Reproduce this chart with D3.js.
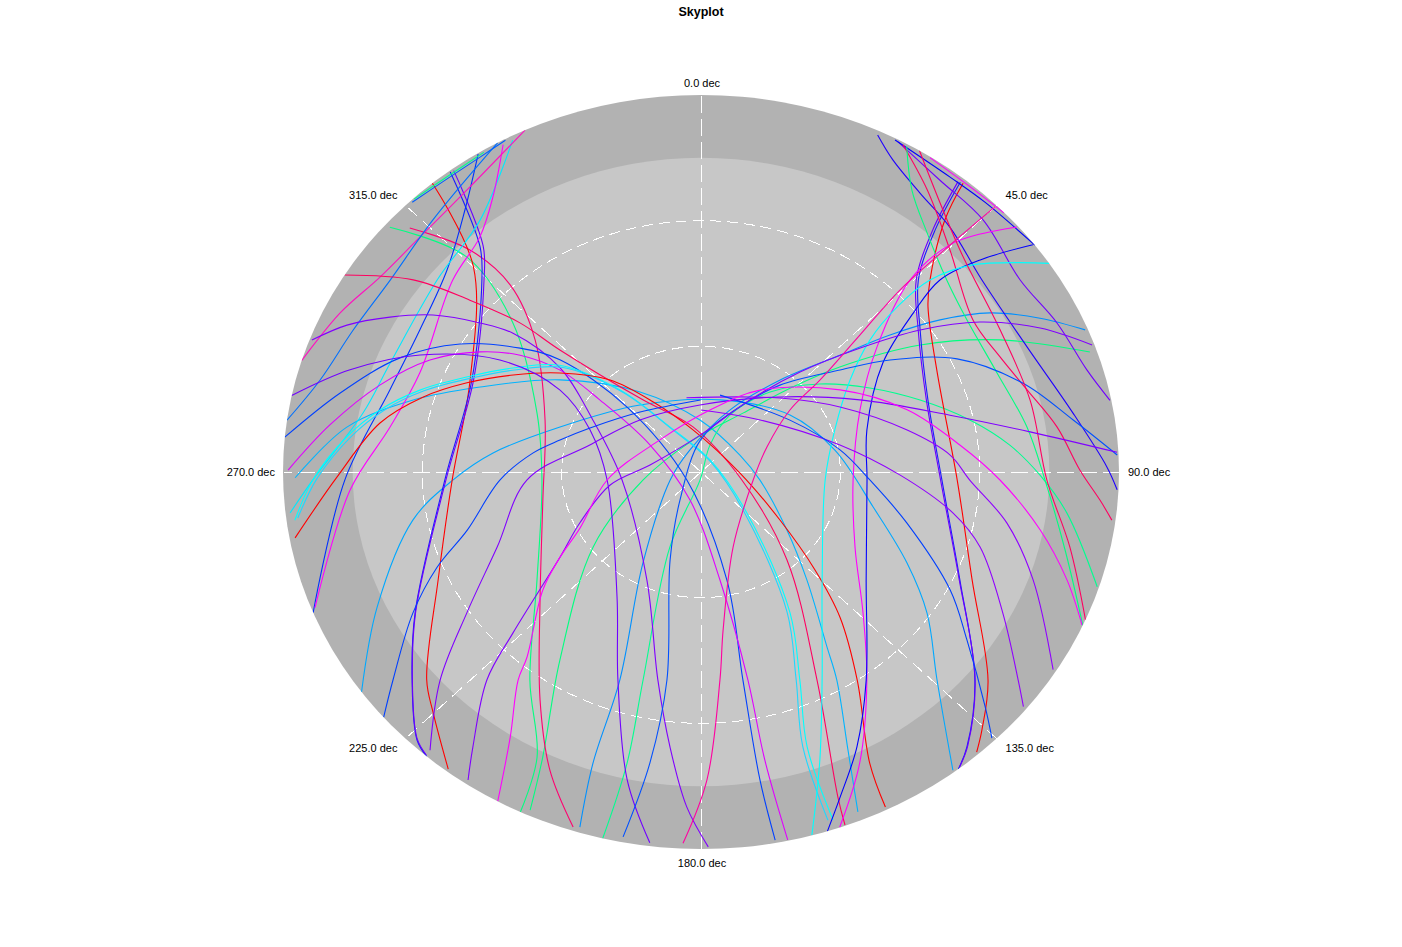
<!DOCTYPE html>
<html><head><meta charset="utf-8">
<script src="https://cdn.jsdelivr.net/npm/d3@7"></script>
<style>body{margin:0;background:#fff;}svg{display:block;}</style>
</head><body>
<svg id="chart" width="1402" height="947"></svg>
<script>
// ---- chart data (azimuth deg, elevation deg) ----
const title = "Skyplot";
const azimuthTicks = [0, 45, 90, 135, 180, 225, 270, 315];
const azimuthLabels = ["0.0 dec","45.0 dec","90.0 dec","135.0 dec","180.0 dec","225.0 dec","270.0 dec","315.0 dec"];
const elevationMask = 15;
const elevationRings = [30, 60];

const trackA1 = [[320,0],[315,20.7],[294,35.6],[268,36.4],[245.5,27.8],[230,12.9],[225,8.5],[217.5,0.6]];
const trackA2 = [[323,0.3],[318.5,18.2],[314.2,24.2],[294,36],[268,34.8],[241.3,19.8],[231.4,10.4],[223.7,1.5],[221,0]];
const trackA3 = [[323.5,0.5],[319,18.5],[314.6,24.4],[294.3,36.3],[268.2,35.1],[241.5,20.1],[231.6,10.7],[223.9,1.8],[221.2,0.2]];
const trackA4 = [[327.7,0.2],[320.9,9.4],[311.4,17.1],[299.3,20.6],[286.3,20.2],[268.6,13.3],[248.1,0]];
const trackA5 = [[332.9,1],[321.7,13.3],[308.9,17],[291.2,18.2],[281,15.9],[268.7,6.4],[263.7,1]];
const trackA6 = [[331.4,1],[325.7,10.5],[319.7,16.4],[310.6,19.6],[291.3,25],[279.1,22.2],[266.7,14.3],[248.7,0.8]];
const trackA7 = [[335.1,0],[323.2,5.9],[312.8,7.5],[304,6.7],[296,3.5],[287.2,0]];
const trackA8 = [[330.9,0],[316.2,6.6],[304.4,8.9],[294.3,7.8],[285,5.1],[277.9,0]];
const trackA9 = [[311.1,1.1],[315.5,18.1],[311.3,36.1],[291.7,52],[266.8,55.7],[233.9,46.3],[216.6,28.2],[207.4,13.3],[205.6,0]];
const trackA10 = [[301.5,0],[306.5,12.9],[309.5,25.5],[312.4,37.2],[313.8,47.9],[324,68.7],[350.9,79.1],[102.2,81],[138.6,62],[153.3,34.4],[159.2,7],[159.8,0.2]];
const trackA11 = [[290.6,0.5],[294.7,6.1],[298.9,13.5],[303,21.2],[306.8,30.6],[309.3,37.7],[309.3,50.8],[298.1,63.6],[263.6,72.9],[204.3,61.7],[190.6,39.5],[185.8,24],[182.2,10],[179,0.5]];
const trackA12 = [[275.3,0],[283.6,10],[292.8,19.7],[300.5,29.8],[307.2,41.1],[311.4,49.5],[314.2,67.8],[237.7,86.4],[167.8,63.6],[169.7,39.5],[170.2,15.4],[169.7,0.7]];
const trackA13 = [[270.3,1.1],[278,9.3],[286.7,17.8],[294.6,25.8],[301.1,34.5],[305.6,42.1],[308.7,51.1],[308.3,62.3],[300.4,77.3],[199.5,82.9],[171,63.9],[168.5,39.3],[168.7,19.9],[168,0.2]];
const trackA14 = [[262.5,1.8],[268.7,6.4],[276.3,13.3],[282.1,19.3],[287.9,26.4],[294.2,34.7],[301.5,42.5],[309.9,50.3],[318.3,63.8],[328.1,77.3],[34.1,86.5],[134.7,76.1],[150.3,51.3],[156.8,36],[160.8,20.5],[161.1,2.2]];
const trackA14b = [[262.8,2.5],[268.9,7.3],[276.4,14.2],[282.2,20.2],[288,27.3],[294.3,35.6],[301.6,43.4],[310,51.2],[318.5,64.6],[328.5,78],[40,86.8],[136,76.5],[151,51.8],[157.5,36.5],[161.5,21],[161.8,2.5]];
const trackA15 = [[259.8,1.2],[269.1,11.6],[279.6,19.9],[286.6,27.5],[292.9,35.3],[299.8,43.4],[307.9,51.5],[318.3,60.6],[328.3,70.3],[350.3,79.8],[91.7,81.6],[124,69.5],[133.6,56.1],[139.2,44.2],[145.9,30],[152.4,11.6],[153.6,0.7]];
const trackA16 = [[234.3,0],[245.2,13.2],[259.5,26.9],[268,36.6],[275.8,45],[289.5,57.8],[320.6,69.3],[13.4,72.3],[54.6,66.5],[79.7,60.7],[102.7,52],[116.1,40.6],[124.7,30.8],[134.3,19],[142.7,0.5]];
const trackA17 = [[269.1,2.6],[278,13],[285.5,25.7],[293.1,38.3],[305.9,52.5],[325.5,66.8],[359,77.6],[64.2,80.7],[98.5,77.2],[126.8,66.9],[138.5,55.6],[147,40.2],[149.5,32.4],[154.5,16.5],[157.4,2.1]];
const trackA18 = [[281.7,0],[287.9,10.6],[294.8,23.4],[301.7,39.1],[302.8,53.9],[292.8,64.1],[264.6,69.7],[211.2,55.1],[199.8,37.2],[192.2,14.8],[187.1,0.8]];
const trackA19 = [[316,0.5],[322,1.2],[328,1.0],[332,0.3]];
const trackA20 = [[316.5,0.2],[322,0.8],[328.5,0.5]];

const trackB1 = [[39.3,0.9],[41.1,10.1],[47.1,22.7],[51.1,27.2],[64.4,33.7],[92,34.8],[113.8,26.2],[128.8,10.7],[135.5,3.7],[138.4,0.6]];
const trackB2 = [[38.9,1.1],[41.1,13.3],[45.6,24.5],[54.3,31.9],[70.6,38.2],[92.1,38.1],[114.8,28.6],[130.1,12.9],[138.9,2.9],[142,0]];
const trackB3 = [[38.6,1.3],[40.8,13.6],[45.3,24.8],[54,32.2],[70.4,38.5],[92,38.4],[114.6,28.9],[129.8,13.2],[138.6,3.1],[141.7,0.2]];
const trackB4 = [[25.3,1],[29,4.8],[35.3,8.4],[42.5,10.7],[52.8,14.1],[67,13.7],[80,8.7],[89.2,2.6],[92.7,0.3]];
const trackB5 = [[28.3,0.5],[36.4,3.4],[45.3,4.5],[56.3,7.4],[65.1,5.5],[73.7,3.4],[79,0.3]];
const trackB6 = [[27.8,0.4],[37.3,1.5],[43.5,1.2],[53,0]];
const trackB7 = [[33.3,0.2],[40,0.6],[46.5,0.1]];
const trackB8 = [[29.1,0.6],[35.9,6.9],[45.3,14.6],[58.2,21.1],[66.9,20],[74.4,17.1],[82,12.6],[89.7,8.4],[94.5,3.8],[97.4,0.8]];
const trackB9 = [[29.7,0.6],[34,8.8],[40.5,15],[49.1,20],[57.6,22.2],[69.7,22],[81.3,19],[91.5,15.9],[103.4,9.4],[114,0]];
const trackB10 = [[49.3,0.3],[44.8,13],[44.5,25.8],[51.8,41.8],[66.6,52.7],[93.3,57.2],[118.4,52.3],[134,41.5],[144.3,28.8],[153.8,12.6],[160.6,0.1]];
const trackB11 = [[52.8,0.3],[49.9,11.4],[48.3,21.1],[50.3,30.6],[56.4,43],[74.3,52.9],[93.1,54.2],[125.9,46.1],[144.4,28.9],[152.9,16.3],[158.9,6.8],[162.4,0]];
const trackB12 = [[56.4,0],[49.8,13.4],[47.1,22.7],[47,32.3],[49.1,41.9],[55.6,51.1],[70.8,59.5],[94.1,63.2],[134.7,53.3],[152.3,33.9],[159.6,16.6],[164.6,0.1]];
const trackB13 = [[87.4,0.3],[81.2,8.9],[73,17.5],[63.9,28.6],[56.7,41.3],[50.9,51.4],[39.3,63.2],[26.3,73.5],[359,82.4],[214,81.9],[197.6,68],[188.4,39.8],[189,19.7],[190.9,1.3]];
const trackB14 = [[67.7,0.6],[63.3,8.3],[58.6,17.1],[54.8,27],[51.2,37.8],[47,49.1],[37.8,62.2],[22.9,73.9],[335.8,84.2],[254,83.1],[209.9,64.9],[199.4,37.4],[198.5,16.7],[197.1,1.3]];
const trackB16 = [[107.8,0.4],[97.1,10.6],[90.6,17],[84.5,23.2],[77.9,30.8],[70,39.8],[61.1,48.5],[50.6,56.9],[37.9,65.8],[24.7,75],[16.7,83.3],[186,88.1],[200.5,70.9],[194.1,38.8],[192.9,18.7],[193.6,0]];
const trackB18 = [[350,72],[43.9,65.5],[62.6,56.3],[77.3,44.5],[85.7,36.2],[91.9,32.1],[100.5,23],[109.8,14],[121.9,0.7]];
const trackB21 = [[0,75.2],[45.7,72.2],[77.8,59.4],[91,47.1],[100.2,34.9],[106.6,27.3],[117.4,16.8],[126,5.6],[128.9,0.8]];
const trackB23 = [[12.6,71.2],[57.1,67.2],[80,59.6],[93,53.6],[105.4,44],[117.7,29.4],[125,20.1],[132.5,7],[135.4,0.8]];
const trackB24 = [[31.5,0],[46.5,13.1],[62.2,17.2],[76.4,17.1],[91.5,15.5],[102.7,8.6],[113.1,0]];

const trackC1 = [[87,0.3],[82.3,18.5],[75.8,34.7],[63.3,51.7],[43.5,65.3],[359.2,74],[313.4,71.9],[285.1,65.2],[267.1,52.5],[247.8,42.6],[236.3,29.4],[228.5,15],[221.3,1.6]];
const trackC2 = [[70.2,0.5],[64.8,9.3],[59.2,20.1],[54.3,31.9],[49.2,44.7],[41.8,58],[31.5,69.8],[359,81.2],[278.7,78.9],[261,70.2],[245,61.2],[236.2,53.5],[226.5,34.2],[222.9,22.3],[216.8,8],[214.3,1]];
const trackC3 = [[114,0.2],[108.1,7.1],[100.7,15.7],[91.7,25.6],[83.4,33.9],[71.5,43.2],[56.8,54.2],[33,66.7],[7.4,75.1],[310.9,78.3],[264.6,69.7],[242.8,60.7],[236.2,53.5],[230.4,45.8],[220.3,32.1],[218.4,26.6],[213,14.6],[209.1,0]];
const trackC4 = [[312.9,4.4],[316.8,17.3],[317.4,29.3],[311.4,42.4],[290.3,54.2],[258.9,55.3],[228.6,43.8],[212.5,25.5],[204.6,11.8],[198,0.9]];
const trackC5 = [[71.1,1.5],[63.9,18.3],[57.3,33.9],[50,51],[44.3,61.6],[32.7,73.3],[347.3,82.2],[261.3,77.4],[232.4,60.7],[214.1,35.8],[206.6,13.9],[204.5,1.3]];
const trackC7 = [[45,0.5],[44.7,13.8],[44.6,29],[46.3,42.7],[49.4,56.3],[52.3,65.8],[67.2,74.6],[99.7,78.6],[158.9,70.8],[172.8,52],[175.3,40.2],[179,16.5],[182.5,1.3]];
const trackD1 = [[359.7,72.8],[317.5,70.6],[293.7,63.9],[284.1,58.7],[277.1,53.5],[267.5,46.7],[254.6,37.8],[248.2,28.8],[241.5,19.4],[233.2,7.2],[229.4,0]];

const tracks = [
  trackA16, trackA17, trackB16, trackB14, trackC5, trackA9, trackC4,
  trackA1, trackA2, trackA3, trackA4, trackA5, trackA6, trackA7, trackA8,
  trackA10, trackA11, trackA12, trackA13, trackA14, trackA14b, trackA15,
  trackA18, trackA19, trackA20,
  trackB1, trackB2, trackB3, trackB4, trackB5, trackB6, trackB7, trackB8, trackB9,
  trackB10, trackB11, trackB12, trackB13, trackB18, trackB21, trackB23, trackB24,
  trackC1, trackC2, trackC3, trackC7, trackD1
];
const trackColors = [
  "#00a8ff", "#00b4ff", "#00ff90", "#0090ff", "#00ff80", "#00ff80", "#ff0070",
  "#ff0000", "#1a1aff", "#6a00ff", "#0030ff", "#00e8ff", "#ff00ff", "#ff10c0", "#0070ff",
  "#ff0060", "#8000ff", "#0040ff", "#e000ff", "#00ffff", "#20d8ff", "#ff0000",
  "#7000ff", "#0060ff", "#00ff90",
  "#ff0000", "#1a1aff", "#6a00ff", "#2000ff", "#7000ff", "#0000ff", "#ff00ff", "#ff0060", "#00ff80",
  "#ff00ff", "#0000ff", "#00ffff", "#0050ff", "#9000ff", "#9000ff", "#0040ff", "#ff0060",
  "#8000ff", "#8000ff", "#ff00ff", "#ff00a0", "#0040ff"
];

// ---- drawing ----
const svg = d3.select("#chart");
const CX = 701, CY = 472, RX = 418, RY = 377;
const rScale = d3.scaleLinear().domain([90, 0]).range([0, 1]);
const rad = d => d * Math.PI / 180;
function proj(az, el) {
  const r = rScale(Math.max(0, el));
  return [CX + RX * r * Math.sin(rad(az)), CY - RY * r * Math.cos(rad(az))];
}

svg.append("text").attr("x", 701).attr("y", 16).attr("text-anchor", "middle")
  .attr("font-family", "Liberation Sans, Arial, sans-serif").attr("font-weight", "bold")
  .attr("font-size", 12.5).attr("fill", "#000").text(title);

// backgrounds
svg.append("ellipse").attr("cx", CX).attr("cy", CY).attr("rx", RX * rScale(0)).attr("ry", RY * rScale(0)).attr("fill", "#b2b2b2");
svg.append("ellipse").attr("cx", CX).attr("cy", CY).attr("rx", RX * rScale(elevationMask)).attr("ry", RY * rScale(elevationMask)).attr("fill", "#c7c7c7");

const grid = svg.append("g").attr("fill", "none").attr("stroke", "#fff").attr("stroke-width", 1);
elevationRings.forEach(e => {
  grid.append("ellipse").attr("cx", CX).attr("cy", CY).attr("rx", RX * rScale(e)).attr("ry", RY * rScale(e))
    .attr("stroke-dasharray", "11,6").attr("shape-rendering", "crispEdges");
});
[[0, 180], [90, 270]].forEach(([a, b]) => {
  const p1 = proj(a, 0), p2 = proj(b, 0);
  grid.append("line").attr("x1", Math.round(p1[0]) + 0.5).attr("y1", Math.round(p1[1]) + 0.5)
    .attr("x2", Math.round(p2[0]) + 0.5).attr("y2", Math.round(p2[1]) + 0.5)
    .attr("stroke-dasharray", "17,6").attr("shape-rendering", "crispEdges");
});
[[45, 225], [135, 315]].forEach(([a, b]) => {
  const p1 = proj(a, 0), p2 = proj(b, 0);
  grid.append("line").attr("x1", p1[0]).attr("y1", p1[1]).attr("x2", p2[0]).attr("y2", p2[1])
    .attr("stroke-dasharray", "13,7").attr("shape-rendering", "crispEdges");
});

// tracks
svg.append("clipPath").attr("id", "sky").append("ellipse")
  .attr("cx", CX).attr("cy", CY).attr("rx", RX).attr("ry", RY);
const line = d3.line().x(d => proj(d[0], d[1])[0]).y(d => proj(d[0], d[1])[1])
  .curve(d3.curveCatmullRom.alpha(0.5));
svg.append("g").attr("clip-path", "url(#sky)").selectAll("path").data(tracks).join("path")
  .attr("d", line).attr("fill", "none").attr("stroke", (d, i) => trackColors[i])
  .attr("stroke-width", 1.1);

// azimuth labels
const lab = svg.append("g").attr("font-family", "Liberation Sans, Arial, sans-serif").attr("font-size", 11).attr("fill", "#000");
azimuthTicks.forEach((a, i) => {
  const p = proj(a, 0);
  const s = Math.sin(rad(a)), c = Math.cos(rad(a));
  const anchor = Math.abs(s) < 0.1 ? "middle" : (s > 0 ? "start" : "end");
  const dx = Math.abs(s) < 0.1 ? 1 : (s > 0 ? 9 : -8);
  const dy = c > 0.9 ? -12 : (c < -0.9 ? 14 : -c * 14);
  lab.append("text").attr("x", p[0] + dx).attr("y", p[1] + dy).attr("dy", "0.35em")
    .attr("text-anchor", anchor).text(azimuthLabels[i]);
});
</script>
</body></html>
